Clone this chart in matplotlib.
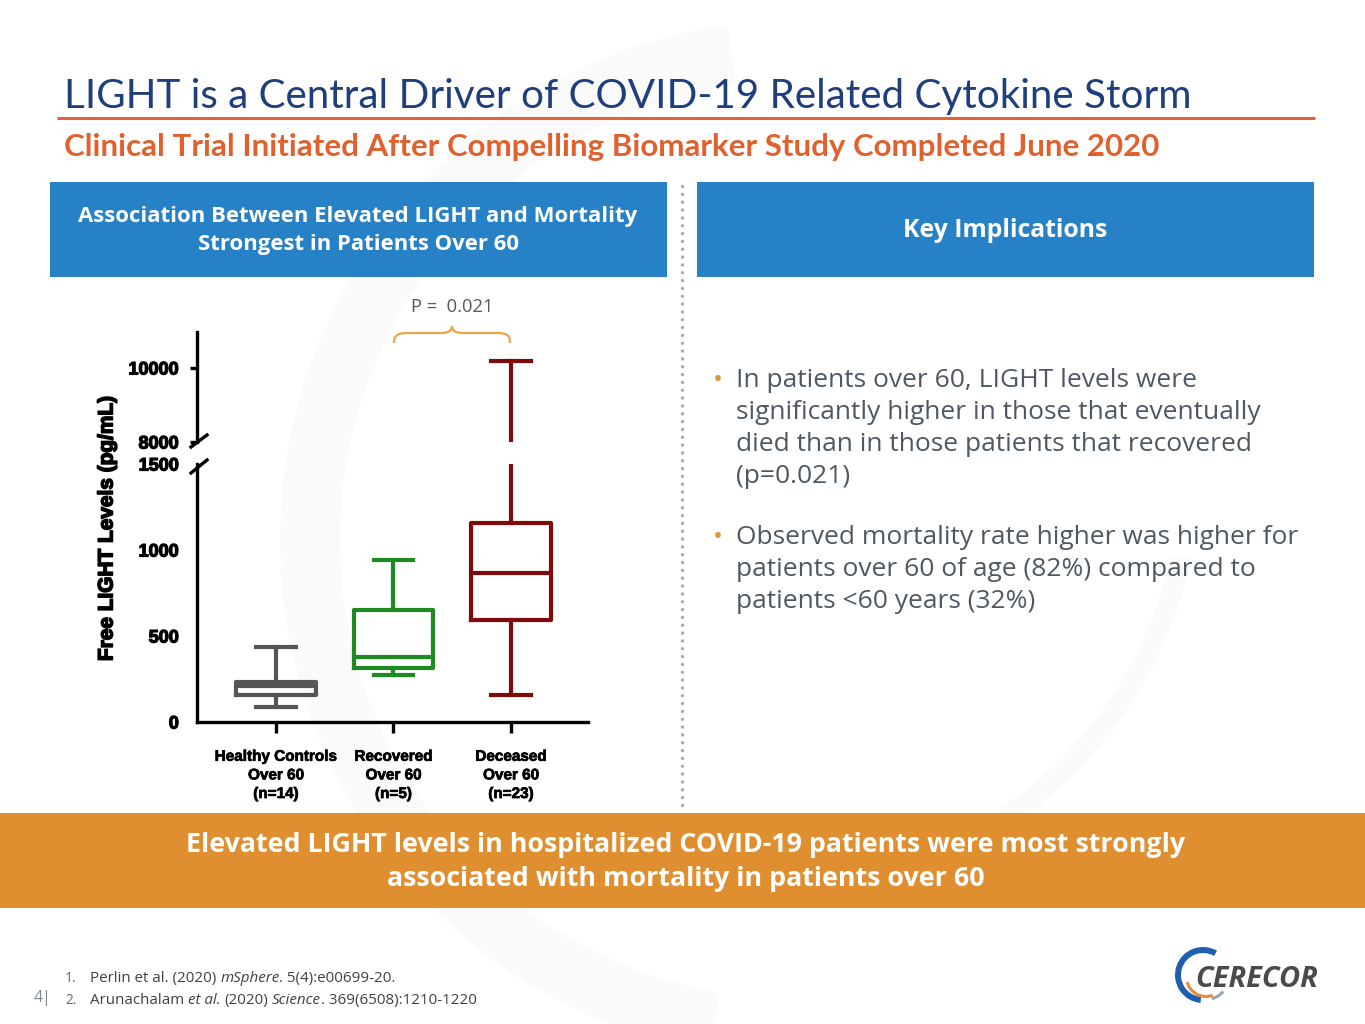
import matplotlib
matplotlib.use('Agg')
import matplotlib.pyplot as plt
import matplotlib.patheffects as pe
from matplotlib.patches import Rectangle, Wedge, PathPatch
from matplotlib.path import Path

# ---------------- data ----------------
groups = ["Healthy Controls\nOver 60\n(n=14)", "Recovered\nOver 60\n(n=5)", "Deceased\nOver 60\n(n=23)"]
whisker_low = [87, 273, 157]
q1 = [157, 314, 593]
median = [207, 378, 866]
q3 = [233, 651, 1157]
whisker_high = [436, 942, 10190]
box_colors = ['#555555', '#1F8A1F', '#800A0A']
lower_ticks = [0, 500, 1000, 1500]
upper_ticks = [8000, 10000]
p_label = "P =  0.021"

title = "LIGHT is a Central Driver of COVID-19 Related Cytokine Storm"
subtitle = "Clinical Trial Initiated After Compelling Biomarker Study Completed June 2020"
left_header = ["Association Between Elevated LIGHT and Mortality", "Strongest in Patients Over 60"]
right_header = "Key Implications"
bullets = [
    ["In patients over 60, LIGHT levels were",
     "significantly higher in those that eventually",
     "died than in those patients that recovered",
     "(p=0.021)"],
    ["Observed mortality rate higher was higher for",
     "patients over 60 of age (82%) compared to",
     "patients <60 years (32%)"],
]
banner = ["Elevated LIGHT levels in hospitalized COVID-19 patients were most strongly",
          "associated with mortality in patients over 60"]

W, H = 1365, 1024
fig = plt.figure(figsize=(W / 100, H / 100), dpi=100)
renderer = fig.canvas.get_renderer()

bg = fig.add_axes([0, 0, 1, 1], zorder=0)
bg.set_xlim(0, W)
bg.set_ylim(H, 0)
bg.axis('off')


def width_of(t):
    return t.get_window_extent(renderer).width


def fit(t, target):
    t.set_fontsize(t.get_fontsize() * target / width_of(t))
    return t.get_fontsize()


# faint watermark arcs
bg.add_patch(Wedge((800, 540), 520, 100, 262, width=60, color='#FAFAFA', lw=0, zorder=0))
bg.add_patch(Wedge((770, 470), 430, 12, 62, width=20, color='#FAFAFA', lw=0, zorder=0))

# title and subtitle
t = bg.text(64, 108, title, family='Lato', color='#1F3E7C', fontsize=30, va='baseline')
fit(t, 1126)
bg.plot([57, 1315], [118, 118], color='#E0643A', lw=2.2, solid_capstyle='butt')
t = bg.text(64, 156, subtitle, family='Lato', weight='bold', color='#E0612E', fontsize=20, va='baseline')
fit(t, 1096)

# header boxes
BLUE = '#2781C6'
bg.add_patch(Rectangle((50, 182), 617, 95, color=BLUE, lw=0))
bg.add_patch(Rectangle((697, 182), 617, 95, color=BLUE, lw=0))
t = bg.text(358, 222, left_header[0], ha='center', va='baseline', color='white', weight='bold',
            family='Open Sans', fontsize=16)
fs = fit(t, 558)
bg.text(358, 250, left_header[1], ha='center', va='baseline', color='white', weight='bold',
        family='Open Sans', fontsize=fs)
t = bg.text(1005, 237, right_header, ha='center', va='baseline', color='white', weight='bold',
            family='Open Sans', fontsize=18)
fit(t, 205)

# dotted divider
bg.plot([682, 682], [186, 810], color='#AAAAAA', lw=2.4, linestyle=(0, (0.05, 2.3)),
        dash_capstyle='round')

# bullets
t = bg.text(736, 544, bullets[1][0], family='Open Sans', color='#4F5862', fontsize=19, va='baseline')
bfs = fit(t, 562)
starts = [387, 544]
for b, y0 in zip(bullets, starts):
    bg.text(713, y0, "\u2022", family='Open Sans', color='#E0963A', fontsize=bfs, va='baseline')
    for i, line in enumerate(b):
        if b is bullets[1] and i == 0:
            continue
        bg.text(736, y0 + 32 * i, line, family='Open Sans', color='#4F5862', fontsize=bfs, va='baseline')

# bottom banner
bg.add_patch(Rectangle((0, 813), W, 95, color='#DF8F30', lw=0))
t = bg.text(686, 852, banner[0], ha='center', va='baseline', color='white', weight='bold',
            family='Open Sans', fontsize=20)
ffs = fit(t, 998)
bg.text(686, 886, banner[1], ha='center', va='baseline', color='white', weight='bold',
        family='Open Sans', fontsize=ffs)

# footnotes
probe = bg.text(0, -100, "Arunachalam et al. (2020) Science. 369(6508):1210-1220", family='Open Sans', fontsize=10)
nfs = fit(probe, 391)
probe.remove()
sp1 = bg.text(0, -100, "x x", family='Open Sans', fontsize=nfs)
sp2 = bg.text(0, -100, "xx", family='Open Sans', fontsize=nfs)
space = width_of(sp1) - width_of(sp2)
sp1.remove(); sp2.remove()


def runs(x, y, parts):
    for s, style in parts:
        if s == " ":
            x += space
            continue
        tt = bg.text(x, y, s, family='Open Sans', fontsize=nfs, style=style, color='#404040', va='baseline')
        x += width_of(tt)


bg.text(65, 982, "1.", family='Open Sans', fontsize=nfs * 0.9, color='#5A6A80', va='baseline')
bg.text(65, 1004, "2.", family='Open Sans', fontsize=nfs * 0.9, color='#5A6A80', va='baseline')
bg.text(34, 1002, "4|", family='Open Sans', fontsize=nfs * 1.05, color='#7F8A99', va='baseline')
runs(90, 982, [("Perlin et al. (2020)", 'normal'), (" ", None), ("mSphere", 'italic'),
               (". 5(4):e00699-20.", 'normal')])
runs(90, 1004, [("Arunachalam", 'normal'), (" ", None), ("et al.", 'italic'), (" ", None),
                ("(2020)", 'normal'), (" ", None), ("Science", 'italic'),
                (". 369(6508):1210-1220", 'normal')])

# logo
bg.add_patch(Wedge((1203, 975), 28, 95, 300, width=6, color='#1F5FAF', lw=0))
bg.add_patch(Wedge((1206, 977), 21, 70, 165, width=3, color='#E8893A', lw=0))
bg.add_patch(Wedge((1206, 977), 24, 40, 75, width=3, color='#9AA3AD', lw=0))
t = bg.text(1195, 987, "CERECOR", family='Open Sans', weight='bold', style='italic',
            color='#4A4A4A', fontsize=20, va='baseline')
fit(t, 123)

# ---------------- chart (broken y axis) ----------------
ax_lo = fig.add_axes([197 / W, 1 - 722 / H, 391 / W, 258 / H], zorder=2)
ax_hi = fig.add_axes([197 / W, 1 - 442 / H, 391 / W, 110 / H], zorder=2)
positions = [1, 2, 3]
stats = [dict(whislo=whisker_low[i], q1=q1[i], med=median[i], q3=q3[i],
              whishi=whisker_high[i], fliers=[]) for i in range(len(groups))]
for a in (ax_lo, ax_hi):
    a.set_facecolor('none')
    for i, st in enumerate(stats):
        c = box_colors[i]
        lp = dict(color=c, lw=3.0)
        a.bxp([st], positions=[positions[i]], widths=0.68, capwidths=0.34, showfliers=False,
              boxprops=lp, whiskerprops=lp, capprops=lp, medianprops=lp, manage_ticks=False)
    a.set_xlim(0.328, 3.655)
    for s in ('top', 'right'):
        a.spines[s].set_visible(False)
    a.spines['left'].set_linewidth(2.4)
    a.spines['bottom'].set_linewidth(2.4)

ax_lo.set_ylim(0, 1500)
ax_hi.set_ylim(8000, 10970)
ax_hi.spines['bottom'].set_visible(False)
ax_hi.set_xticks([])

heavy = [pe.withStroke(linewidth=0.9, foreground='black')]
medium = [pe.withStroke(linewidth=0.5, foreground='black')]
tick_font = dict(family='Liberation Sans', weight='bold')
ax_lo.set_yticks(lower_ticks)
ax_lo.set_yticklabels([str(v) for v in lower_ticks], fontsize=13, path_effects=heavy, **tick_font)
ax_hi.set_yticks(upper_ticks)
ax_hi.set_yticklabels([str(v) for v in upper_ticks], fontsize=13, path_effects=heavy, **tick_font)
ax_lo.tick_params(axis='y', length=0, pad=13)
ax_hi.tick_params(axis='y', length=5, width=2.4, pad=8)
ax_lo.set_xticks(positions)
ax_lo.set_xticklabels(groups, fontsize=11, linespacing=1.42, path_effects=medium, **tick_font)
ax_lo.tick_params(axis='x', length=8, width=2.4, pad=12)

bg.text(107, 528, "Free LIGHT Levels (pg/mL)", rotation=90, ha='center', va='center',
        fontsize=15, path_effects=[pe.withStroke(linewidth=1.1, foreground='black')], **tick_font)

# axis break marks
bg.plot([191, 207], [447, 435], color='black', lw=2.4, zorder=3)
bg.plot([191, 207], [473, 460], color='black', lw=2.4, zorder=3)

# significance brace
verts = [(394, 343), (394, 335), (398, 333), (408, 333), (441, 333),
         (448, 333), (452, 331), (452, 326), (452, 331), (456, 333), (463, 333),
         (497, 333), (507, 333), (510, 335), (510, 343)]
codes = [Path.MOVETO, Path.CURVE4, Path.CURVE4, Path.CURVE4, Path.LINETO,
         Path.CURVE4, Path.CURVE4, Path.CURVE4, Path.CURVE4, Path.CURVE4, Path.CURVE4,
         Path.LINETO, Path.CURVE4, Path.CURVE4, Path.CURVE4]
bg.add_patch(PathPatch(Path(verts, codes), fill=False, edgecolor='#E8A54B', lw=1.6))
t = bg.text(452, 312, p_label, ha='center', va='baseline', family='Open Sans',
            color='#595959', fontsize=12)
fit(t, 83)

fig.savefig('out.png', dpi=100)
